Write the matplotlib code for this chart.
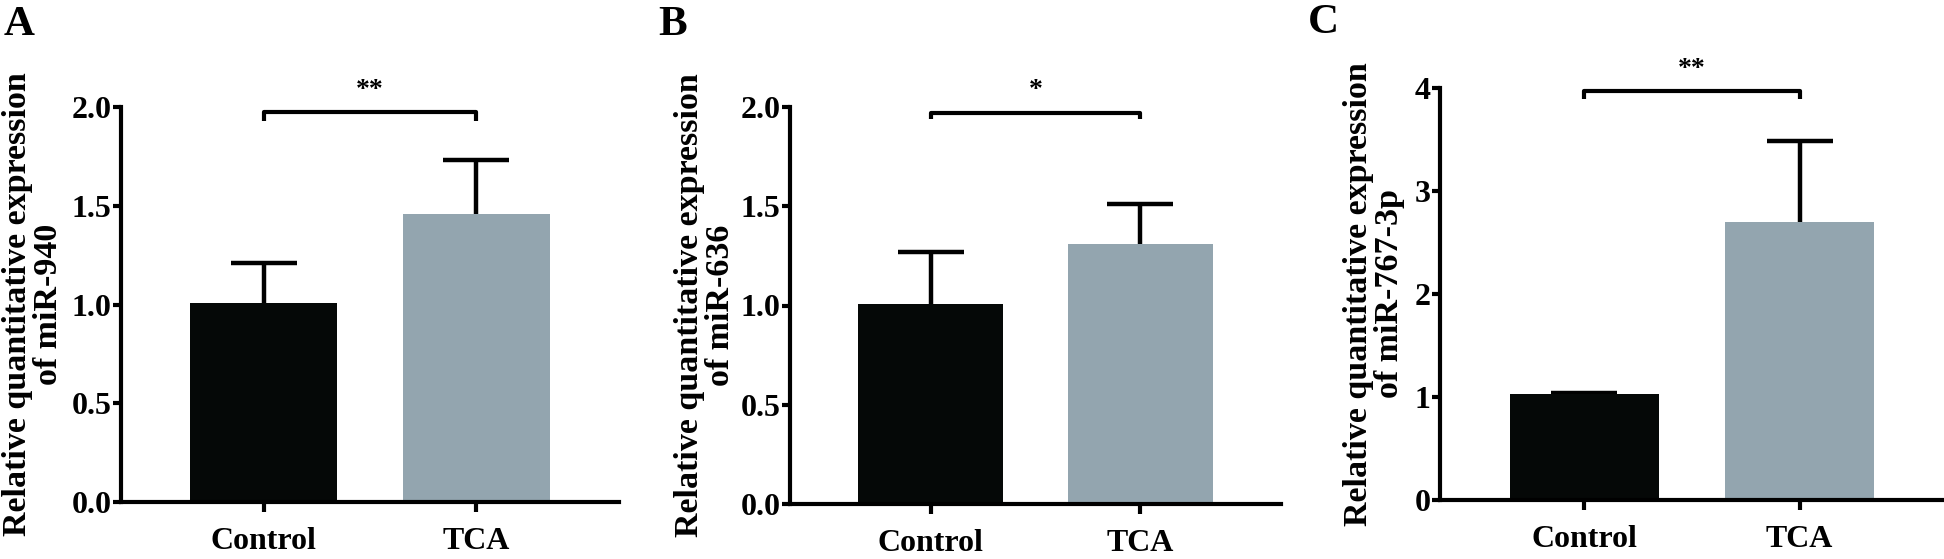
import matplotlib
matplotlib.use("Agg")
import matplotlib.pyplot as plt

plt.rcParams['font.family'] = ['Liberation Serif', 'DejaVu Serif']
plt.rcParams['font.weight'] = 'bold'

groups = ["Control", "TCA"]
bar_colors = ["#050807", "#93a5af"]

# panel A - miR-940
a_means = [1.01, 1.46]
a_err = [0.20, 0.27]
# panel B - miR-636
b_means = [1.01, 1.31]
b_err = [0.26, 0.20]
# panel C - miR-767-3p
c_means = [1.03, 2.70]
c_err = [0.01, 0.79]

panels = [
    # letter, ylabel, means, errs, ymax, yticks, tick fmt, stars, bracket y, bracket drop, star y
    ("A", "Relative quantitative expression\nof miR-940", a_means, a_err, 2.0,
     [0, 0.5, 1.0, 1.5, 2.0], "{:.1f}", "**", 1.977, 0.05, 2.02),
    ("B", "Relative quantitative expression\nof miR-636", b_means, b_err, 2.0,
     [0, 0.5, 1.0, 1.5, 2.0], "{:.1f}", "*", 1.968, 0.03, 2.02),
    ("C", "Relative quantitative expression\nof miR-767-3p", c_means, c_err, 4.0,
     [0, 1, 2, 3, 4], "{:.0f}", "**", 3.97, 0.08, 4.06),
]

W, H = 1944, 559
fig = plt.figure(figsize=(W / 100, H / 100), dpi=100)

# axes boxes in pixels: left, right, bottom(y of 0), top(y of max)
boxes = [(121, 619, 502, 107), (790, 1281, 504, 107), (1440, 1944, 500, 88)]
letter_pos = [(4, 6), (658, 6), (1308, 4)]
ylab_x = [33, 705, 1374]

for i, (letter, ylab, means, errs, ymax, yticks, fmt, stars, by, bd, sy) in enumerate(panels):
    l, r, b, t = boxes[i]
    ax = fig.add_axes([l / W, 1 - b / H, (r - l) / W, (b - t) / H])
    x = [0, 1]
    ax.bar(x, means, width=0.69, color=bar_colors, zorder=2)
    eb = ax.errorbar(x, means, yerr=[[0, 0], errs], fmt="none", ecolor="black",
                     elinewidth=3.2, capsize=24, capthick=3.2, zorder=1)
    # drop the lower caps (one-sided error bars)
    eb[1][0].set_visible(False)
    ax.set_xlim(-0.67, 1.67)
    ax.set_ylim(0, ymax)
    ax.set_xticks(x)
    ax.set_xticklabels(groups, fontsize=23, fontweight="bold")
    ax.set_yticks(yticks)
    ax.set_yticklabels([fmt.format(v) for v in yticks], fontsize=23, fontweight="bold")
    for s in ["top", "right"]:
        ax.spines[s].set_visible(False)
    for s in ["left", "bottom"]:
        ax.spines[s].set_linewidth(3)
    ax.tick_params(axis="y", length=6, width=3, pad=1)
    ax.tick_params(axis="x", length=7, width=3, pad=11)

    # significance bracket
    ax.plot([0, 0, 1, 1], [by - bd, by, by, by - bd], color="black", lw=3,
            clip_on=False, solid_capstyle="butt")
    ax.text(0.5, sy, stars, ha="center", va="bottom", fontsize=20,
            fontweight="bold", clip_on=False)

    fig.text(ylab_x[i] / W, 1 - ((b + t) / 2) / H, ylab, rotation=90,
             ha="center", va="center", fontsize=24.5, fontweight="bold",
             linespacing=1.0)
    lx, ly = letter_pos[i]
    fig.text(lx / W, 1 - ly / H, letter, ha="left", va="top", fontsize=31,
             fontweight="bold")

fig.savefig("out.png", dpi=100)
